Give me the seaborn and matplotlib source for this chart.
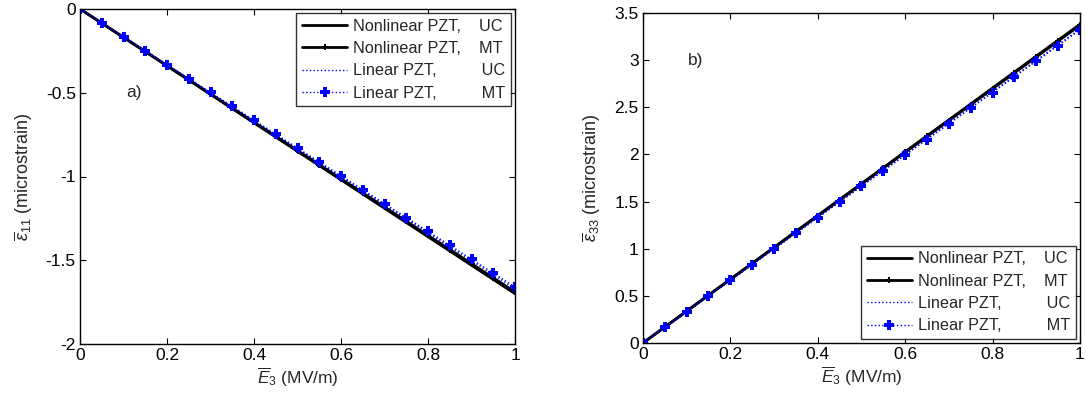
import numpy as np
import pandas as pd
import matplotlib
matplotlib.use("Agg")
import matplotlib.pyplot as plt
import seaborn as sns

sns.set_theme(style="ticks")
plt.rcParams['font.family'] = ['Liberation Sans', 'DejaVu Sans']
plt.rcParams['mathtext.fontset'] = 'custom'
plt.rcParams['mathtext.rm'] = 'Liberation Sans'
plt.rcParams['mathtext.it'] = 'Liberation Sans:italic'

# electric field values (MV/m)
E3 = [0.0, 0.05, 0.1, 0.15, 0.2, 0.25, 0.3, 0.35, 0.4, 0.45, 0.5,
      0.55, 0.6, 0.65, 0.7, 0.75, 0.8, 0.85, 0.9, 0.95, 1.0]

# panel a) strain eps_11 (microstrain)
eps11_nl_uc = [0, -0.085, -0.170, -0.255, -0.340, -0.425, -0.510, -0.595, -0.680, -0.765, -0.850,
               -0.935, -1.020, -1.105, -1.190, -1.275, -1.360, -1.445, -1.530, -1.615, -1.700]
eps11_nl_mt = [0, -0.084, -0.169, -0.253, -0.338, -0.422, -0.507, -0.591, -0.676, -0.760, -0.845,
               -0.929, -1.014, -1.098, -1.183, -1.267, -1.352, -1.436, -1.521, -1.605, -1.690]
eps11_l_uc = [0, -0.0835, -0.167, -0.2505, -0.334, -0.4175, -0.501, -0.5845, -0.668, -0.7515, -0.835,
              -0.9185, -1.002, -1.0855, -1.169, -1.2525, -1.336, -1.4195, -1.503, -1.5865, -1.670]
eps11_l_mt = [0, -0.083, -0.166, -0.249, -0.332, -0.415, -0.498, -0.581, -0.664, -0.747, -0.830,
              -0.913, -0.996, -1.079, -1.162, -1.245, -1.328, -1.411, -1.494, -1.577, -1.660]

# panel b) strain eps_33 (microstrain)
eps33_nl_uc = [0, 0.169, 0.338, 0.507, 0.676, 0.845, 1.014, 1.183, 1.352, 1.521, 1.690,
               1.859, 2.028, 2.197, 2.366, 2.535, 2.704, 2.873, 3.042, 3.211, 3.380]
eps33_nl_mt = [0, 0.168, 0.337, 0.506, 0.674, 0.843, 1.011, 1.180, 1.348, 1.517, 1.685,
               1.854, 2.022, 2.191, 2.359, 2.528, 2.696, 2.865, 3.033, 3.202, 3.370]
eps33_l_uc = [0, 0.167, 0.333, 0.500, 0.666, 0.833, 0.999, 1.166, 1.332, 1.499, 1.665,
              1.832, 1.998, 2.165, 2.331, 2.498, 2.664, 2.831, 2.997, 3.164, 3.330]
eps33_l_mt = [0, 0.166, 0.332, 0.498, 0.664, 0.830, 0.996, 1.162, 1.328, 1.494, 1.660,
              1.826, 1.992, 2.158, 2.324, 2.490, 2.656, 2.822, 2.988, 3.154, 3.320]

labels = ["Nonlinear PZT,    UC", "Nonlinear PZT,    MT",
          "Linear PZT,          UC", "Linear PZT,          MT"]

FS = 12.5

fig = plt.figure(figsize=(10.86, 4.0), dpi=100)
ax1 = fig.add_axes([0.0737, 0.14, 0.4006, 0.8375])
ax2 = fig.add_axes([0.592, 0.1425, 0.4024, 0.825])


def draw(ax, uc_nl, mt_nl, uc_l, mt_l):
    sns.lineplot(x=E3, y=uc_nl, ax=ax, color="black", linewidth=2, label=labels[0])
    sns.lineplot(x=E3, y=mt_nl, ax=ax, color="black", linewidth=2, marker="P",
                 markersize=5, markeredgewidth=0, label=labels[1])
    sns.lineplot(x=E3, y=uc_l, ax=ax, color="blue", linewidth=1, linestyle=":", label=labels[2])
    sns.lineplot(x=E3, y=mt_l, ax=ax, color="blue", linewidth=1, linestyle=":", marker="P",
                 markersize=7, markeredgewidth=0, label=labels[3])
    ax.set_xlim(0, 1)
    ax.set_xticks([0, 0.2, 0.4, 0.6, 0.8, 1])
    ax.set_xticklabels(["0", "0.2", "0.4", "0.6", "0.8", "1"])
    ax.tick_params(direction="in", top=True, right=True, length=4, width=0.8,
                   labelsize=FS, colors="black", pad=3)
    for s in ax.spines.values():
        s.set_color("black")
        s.set_linewidth(1)
    ax.set_xlabel(r"$\overline{E}_{3}$ (MV/m)", fontsize=FS, labelpad=2)


def add_legend(ax, loc):
    leg = ax.legend(loc=loc, fontsize=11.7, frameon=True, fancybox=False, edgecolor="black",
                    handlelength=2.8, borderaxespad=0.25, labelspacing=0.45, borderpad=0.35,
                    handletextpad=0.35)
    leg.get_frame().set_linewidth(1)


draw(ax1, eps11_nl_uc, eps11_nl_mt, eps11_l_uc, eps11_l_mt)
ax1.set_ylim(-2, 0)
ax1.set_yticks([-2, -1.5, -1, -0.5, 0])
ax1.set_yticklabels(["-2", "-1.5", "-1", "-0.5", "0"])
ax1.set_ylabel(r"$\overline{\varepsilon}_{11}$ (microstrain)", fontsize=FS + 0.5, labelpad=8)
ax1.text(0.125, -0.5, "a)", fontsize=FS, ha="center", va="center")
add_legend(ax1, "upper right")

draw(ax2, eps33_nl_uc, eps33_nl_mt, eps33_l_uc, eps33_l_mt)
ax2.set_ylim(0, 3.5)
ax2.set_yticks([0, 0.5, 1, 1.5, 2, 2.5, 3, 3.5])
ax2.set_yticklabels(["0", "0.5", "1", "1.5", "2", "2.5", "3", "3.5"])
ax2.set_ylabel(r"$\overline{\varepsilon}_{33}$ (microstrain)", fontsize=FS + 0.5, labelpad=8)
ax2.text(0.12, 3.0, "b)", fontsize=FS, ha="center", va="center")
add_legend(ax2, "lower right")

fig.savefig("out.png", dpi=100, facecolor="white")
